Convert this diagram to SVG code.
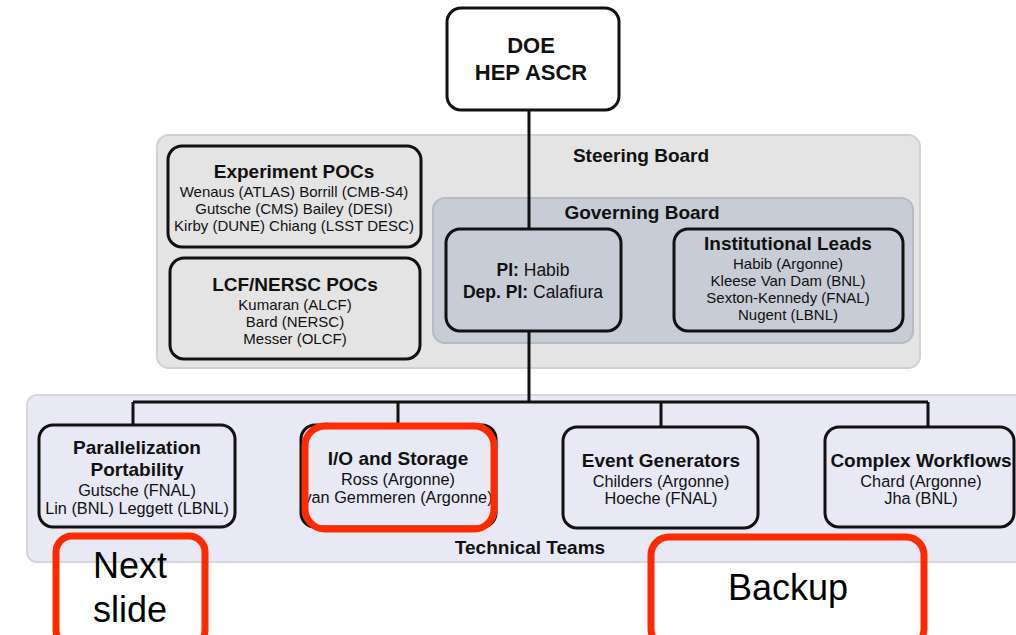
<svg xmlns="http://www.w3.org/2000/svg" width="1016" height="635" viewBox="0 0 1016 635">
<style>
text{font-family:"Liberation Sans",Arial,sans-serif;fill:#111;text-anchor:middle}
.b{font-weight:bold}
.t{font-size:19px;font-weight:bold}
.s{font-size:15px}
.s2{font-size:16.3px}
.box{fill:none;stroke:#111;stroke-width:3}
.red{fill:none;stroke:#ff2a00;stroke-width:7}
.big{font-size:36px;fill:#000}
.ln{stroke:#111;stroke-width:3;fill:none}
</style>
<rect width="1016" height="635" fill="#fff"/>
<g id="steering">
<rect x="157" y="135" width="763" height="233" rx="12" fill="#e4e4e4" stroke="#d0d0d0" stroke-width="2"/>
<text x="641" y="162" class="t">Steering Board</text>
</g>
<g id="governing">
<rect x="433" y="198" width="480" height="145" rx="12" fill="#c8ccd6" stroke="#b6bac4" stroke-width="2"/>
<text x="642" y="219" class="t">Governing Board</text>
</g>
<g id="technical">
<rect x="27" y="395" width="1000" height="167" rx="10" fill="#e8e9f5" stroke="#d4d5de" stroke-width="2"/>
<text x="530" y="554" class="t">Technical Teams</text>
</g>
<g id="connectors">
<path class="ln" d="M529 111V229M529 331V402M133 402H928M133 402V425M398 402V425M661 402V427M928 402V427"/>
</g>
<g id="doe">
<rect x="447" y="8" width="172" height="102" rx="14" fill="#fff" class="box"/>
<text x="531" y="53" class="b" style="font-size:22px">DOE</text>
<text x="531" y="80" class="b" style="font-size:22px">HEP ASCR</text>
</g>
<g id="experiment">
<rect x="168" y="146" width="253" height="101" rx="14" class="box"/>
<text x="294" y="178" class="t">Experiment POCs</text>
<text x="294" y="197" class="s">Wenaus (ATLAS) Borrill (CMB-S4)</text>
<text x="294" y="214" class="s">Gutsche (CMS) Bailey (DESI)</text>
<text x="294" y="231" class="s">Kirby (DUNE) Chiang (LSST DESC)</text>
</g>
<g id="lcf">
<rect x="170" y="258" width="250" height="101" rx="14" class="box"/>
<text x="295" y="291" class="t">LCF/NERSC POCs</text>
<text x="295" y="310" class="s">Kumaran (ALCF)</text>
<text x="295" y="327" class="s">Bard (NERSC)</text>
<text x="295" y="344" class="s">Messer (OLCF)</text>
</g>
<g id="pi">
<rect x="446" y="229" width="175" height="102" rx="14" class="box"/>
<text x="533" y="276" style="font-size:17.5px"><tspan class="b">PI:</tspan> Habib</text>
<text x="533" y="298" style="font-size:17.5px"><tspan class="b">Dep. PI:</tspan> Calafiura</text>
</g>
<g id="institutional">
<rect x="674" y="229" width="229" height="102" rx="14" class="box"/>
<text x="788" y="250" class="t">Institutional Leads</text>
<text x="788" y="269" class="s">Habib (Argonne)</text>
<text x="788" y="286" class="s">Kleese Van Dam (BNL)</text>
<text x="788" y="303" class="s">Sexton-Kennedy (FNAL)</text>
<text x="788" y="320" class="s">Nugent (LBNL)</text>
</g>
<g id="parallel">
<rect x="39" y="425" width="196" height="102" rx="14" class="box"/>
<text x="137" y="454" class="t">Parallelization</text>
<text x="137" y="476" class="t">Portability</text>
<text x="137" y="496" class="s2">Gutsche (FNAL)</text>
<text x="137" y="514" class="s2">Lin (BNL) Leggett (LBNL)</text>
</g>
<g id="io">
<rect x="301" y="425" width="195" height="102" rx="14" class="box"/>
<text x="398" y="465" class="t">I/O and Storage</text>
<text x="398" y="485" class="s2">Ross (Argonne)</text>
<text x="398" y="503" class="s2">van Gemmeren (Argonne)</text>
<rect x="305" y="426" width="189" height="103" rx="20" class="red"/>
</g>
<g id="event">
<rect x="563" y="427" width="195" height="101" rx="14" class="box"/>
<text x="661" y="467" class="t">Event Generators</text>
<text x="661" y="487" class="s2">Childers (Argonne)</text>
<text x="661" y="504" class="s2">Hoeche (FNAL)</text>
</g>
<g id="workflows">
<rect x="825" y="427" width="189" height="100" rx="14" class="box"/>
<text x="921" y="467" class="t">Complex Workflows</text>
<text x="921" y="487" class="s2">Chard (Argonne)</text>
<text x="921" y="504" class="s2">Jha (BNL)</text>
</g>
<g id="nextslide">
<rect x="56" y="536" width="149" height="110" rx="16" fill="#fff" class="red"/>
<text x="130" y="578" class="big">Next</text>
<text x="130" y="622" class="big">slide</text>
</g>
<g id="backup">
<rect x="651" y="537" width="273" height="110" rx="18" fill="#fff" class="red"/>
<text x="788" y="600" class="big">Backup</text>
</g>
</svg>
